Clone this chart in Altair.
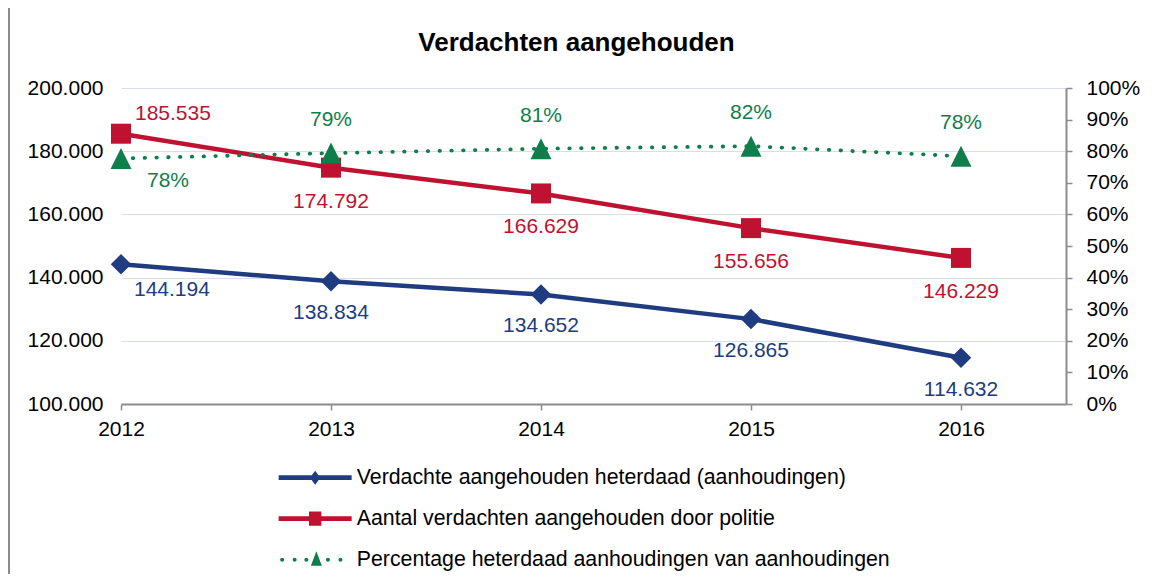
import altair as alt
import pandas as pd

# ---------------- data ----------------
years = [2012, 2013, 2014, 2015, 2016]
heterdaad = [144194, 138834, 134652, 126865, 114632]
politie = [185535, 174792, 166629, 155656, 146229]
percentage = [0.777, 0.794, 0.808, 0.816, 0.784]

series_names = [
    "Verdachte aangehouden heterdaad (aanhoudingen)",
    "Aantal verdachten aangehouden door politie",
    "Percentage heterdaad aanhoudingen van aanhoudingen",
]
left_ticks = [100000, 120000, 140000, 160000, 180000, 200000]
right_ticks = [0.0, 0.1, 0.2, 0.3, 0.4, 0.5, 0.6, 0.7, 0.8, 0.9, 1.0]
title_text = "Verdachten aangehouden"

# ---------------- style ----------------
BLUE = "#203C80"
RED = "#BF1230"
GREEN = "#0F7E4B"
AXIS_GRAY = "#8C8C8C"
GRID = "#D9DEEA"
FONT = "Liberation Sans"
FS = 21

df = pd.DataFrame({"year": years, "heterdaad": heterdaad,
                   "politie": politie, "pct": percentage})
legend_df = pd.DataFrame({"series": series_names})

x_enc = alt.X(
    "year:Q",
    scale=alt.Scale(domain=[2012, 2016.5], nice=False, zero=False),
    axis=alt.Axis(values=years, format="d", title=None, grid=False,
                  labelFlush=False, labelOverlap=False,
                  domainColor=AXIS_GRAY, domainWidth=2, tickColor=AXIS_GRAY,
                  tickWidth=1.5, tickSize=6, labelPadding=8, labelFontSize=FS,
                  labelFont=FONT, labelColor="black"),
)

yL_scale = alt.Scale(domain=[100000, 200000], nice=False, zero=False)
yL_axis = alt.Axis(values=left_ticks, format=",d", title=None, domain=False,
                   ticks=False, grid=True, gridColor=GRID, gridWidth=1,
                   labelFlush=False, labelOverlap=False,
                   labelPadding=18, labelFontSize=FS, labelFont=FONT,
                   labelColor="black")
yR_scale = alt.Scale(domain=[0, 1], nice=False, zero=False)
yR_axis = alt.Axis(orient="right", values=right_ticks, format=".0%", title=None,
                   grid=False, domainColor=AXIS_GRAY, domainWidth=2,
                   labelFlush=False, labelOverlap=False,
                   tickColor=AXIS_GRAY, tickWidth=1.5, tickSize=6,
                   labelPadding=14, labelFontSize=FS, labelFont=FONT,
                   labelColor="black")

base = alt.Chart(df)

def yl(field):
    return alt.Y(f"{field}:Q", scale=yL_scale, axis=yL_axis)

def yr(field):
    return alt.Y(f"{field}:Q", scale=yR_scale, axis=yR_axis)

first = "datum.year == 2012"
rest = "datum.year != 2012"

# blue series
blue_line = base.mark_line(color=BLUE, strokeWidth=4.5).encode(x=x_enc, y=yl("heterdaad"))
blue_pts = base.mark_point(shape="diamond", filled=True, size=420, color=BLUE,
                           opacity=1).encode(x=x_enc, y=yl("heterdaad"))
blue_lbl1 = base.transform_filter(first).mark_text(
    align="left", baseline="middle", dx=13, dy=26, fontSize=FS, font=FONT, color=BLUE
).encode(x=x_enc, y=yl("heterdaad"), text=alt.Text("heterdaad:Q", format=",d"))
blue_lbl = base.transform_filter(rest).mark_text(
    align="center", baseline="middle", dy=32, fontSize=FS, font=FONT, color=BLUE
).encode(x=x_enc, y=yl("heterdaad"), text=alt.Text("heterdaad:Q", format=",d"))

# red series
red_line = base.mark_line(color=RED, strokeWidth=4.5).encode(x=x_enc, y=yl("politie"))
red_pts = base.mark_point(shape="square", filled=True, size=400, color=RED,
                          opacity=1).encode(x=x_enc, y=yl("politie"))
red_lbl1 = base.transform_filter(first).mark_text(
    align="left", baseline="middle", dx=14, dy=-20, fontSize=FS, font=FONT, color=RED
).encode(x=x_enc, y=yl("politie"), text=alt.Text("politie:Q", format=",d"))
red_lbl = base.transform_filter(rest).mark_text(
    align="center", baseline="middle", dy=34, fontSize=FS, font=FONT, color=RED
).encode(x=x_enc, y=yl("politie"), text=alt.Text("politie:Q", format=",d"))

# legend (custom symbols: line + marker); symbol unit = 10 px
def circ(cx, r=0.2):
    return f"M{cx - r},0a{r},{r} 0 1,0 {2 * r},0a{r},{r} 0 1,0 {-2 * r},0Z"

LINE = "M-3.65,-0.24L3.65,-0.24L3.65,0.24L-3.65,0.24Z"
p_blue = LINE + " M-0.52,0L0,-0.7L0.52,0L0,0.7Z"
p_red = LINE + " M-0.62,-0.72L0.62,-0.72L0.62,0.72L-0.62,0.72Z"
p_green = "M0.12,-0.85L0.67,0.6L-0.43,0.6Z " + " ".join(
    circ(c) for c in [-3.3, -2.05, -0.88, 1.28, 2.53])

leg = alt.Legend(title=None, orient="none", legendX=157, legendY=379,
                 direction="vertical", padding=0, labelFont=FONT,
                 labelFontSize=21.3, labelColor="black", labelLimit=1000,
                 symbolSize=400, symbolStrokeWidth=0, symbolOffset=26.5,
                 labelOffset=31, rowPadding=19)

legend_layer = alt.Chart(legend_df).transform_filter("length(datum.series) < 0").mark_point(
    filled=True, opacity=1
).encode(
    color=alt.Color("series:N", scale=alt.Scale(domain=series_names, range=[BLUE, RED, GREEN]),
                    legend=leg),
    shape=alt.Shape("series:N", scale=alt.Scale(domain=series_names,
                                                range=[p_blue, p_red, p_green]),
                    legend=leg),
)

border = alt.Chart(legend_df).mark_rule(color=AXIS_GRAY, strokeWidth=2).encode(
    x=alt.value(-112), y=alt.value(-80), y2=alt.value(486)
)

left = alt.layer(border, blue_line, red_line, blue_pts, red_pts,
                 blue_lbl1, blue_lbl, red_lbl1, red_lbl, legend_layer)

# green series
green_line = base.mark_line(color=GREEN, strokeWidth=3.8, strokeDash=[0.5, 11.3],
                            strokeCap="round").encode(x=x_enc, y=yr("pct"))
green_pts = base.mark_point(shape="M0,-1L1,1L-1,1Z", filled=True, size=441, color=GREEN,
                            opacity=1).encode(x=x_enc, y=yr("pct"))
green_lbl1 = base.transform_filter(first).mark_text(
    align="left", baseline="middle", dx=26, dy=23, fontSize=FS, font=FONT, color=GREEN
).encode(x=x_enc, y=yr("pct"), text=alt.Text("pct:Q", format=".0%"))
green_lbl = base.transform_filter(rest).mark_text(
    align="center", baseline="middle", dy=-33, fontSize=FS, font=FONT, color=GREEN
).encode(x=x_enc, y=yr("pct"), text=alt.Text("pct:Q", format=".0%"))

right = alt.layer(green_line, green_pts, green_lbl1, green_lbl)

chart = alt.layer(left, right).resolve_scale(y="independent").properties(
    width=945,
    height=316,
    autosize=alt.AutoSizeParams(type="none"),
    padding={"left": 113, "top": 80, "right": 81, "bottom": 170},
    title=alt.TitleParams(title_text, fontSize=26, fontWeight="bold", font=FONT,
                          color="black", anchor="middle", dx=-17, offset=-70,
                          baseline="alphabetic"),
).configure(
    locale={"number": {"decimal": ",", "thousands": ".", "grouping": [3],
                       "currency": ["€", ""]}},
    background="white",
).configure_view(stroke=None)

chart.save("out.html", embed_options={"renderer": "svg", "actions": False})
